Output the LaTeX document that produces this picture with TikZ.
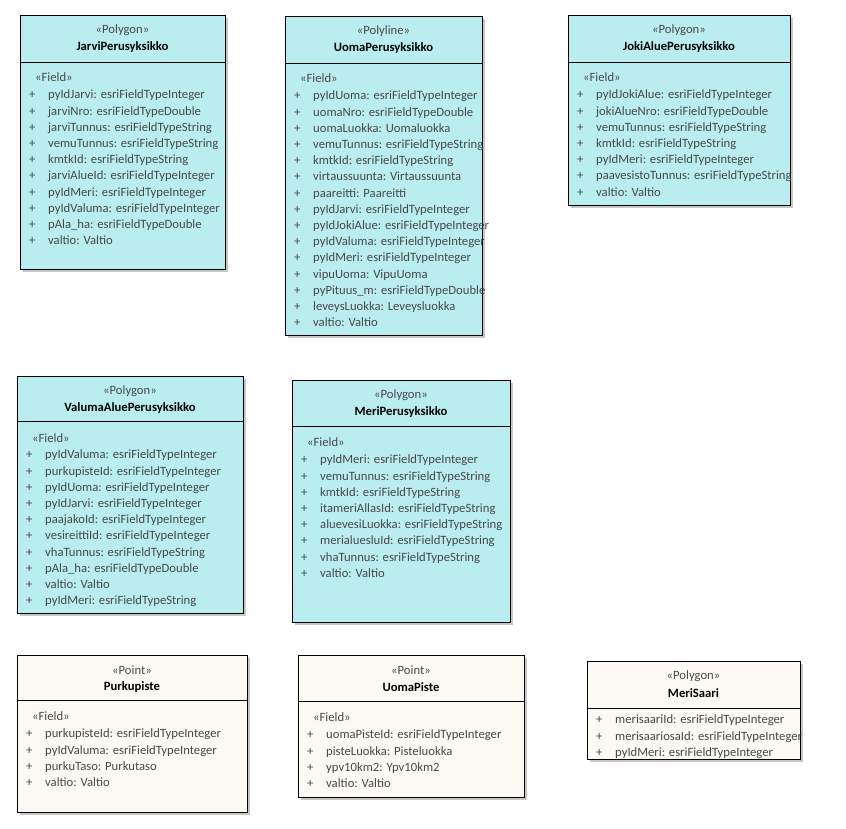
\documentclass[tikz,border=0pt]{standalone}
\usepackage{fontspec}
\setmainfont{Carlito}
\definecolor{cyanfill}{RGB}{186,237,240}
\definecolor{pointfill}{RGB}{253,250,246}
\definecolor{txt}{RGB}{72,72,72}
\tikzset{
  clsbox/.style={draw=black, line width=0.9bp, fill=#1},
  shade/.style={fill=black!22},
  stereotxt/.style={font=\fontsize{12.7}{14}\selectfont, text=txt, inner sep=0},
  titletxt/.style={font=\fontsize{12.7}{14}\selectfont\bfseries, text=black, inner sep=0},
  fldtxt/.style={font=\fontsize{12.7}{14}\selectfont, text=txt, inner sep=0, anchor=west, text height=8.6bp, text depth=2.8bp},
}
% #1 name  #2 x1  #3 y1  #4 x2  #5 y2  #6 ydivider  #7 fill  #8 stereotype  #9 title
\newcommand\umlcls[9]{%
  \fill[shade] ({#2+3},{#3+3}) rectangle ({#4+3},{#5+3});
  \draw[clsbox=#7] (#2,#3) rectangle (#4,#5);
  \coordinate (#1-nw) at (#2,#3);
  \coordinate (#1-se) at (#4,#5);
  \draw[line width=0.8bp] (#2,#6) -- (#4,#6);
  \node[stereotxt] (#1-st) at ({(#2+#4)/2},{#3+15.5}) {«#8»};
  \node[titletxt] (#1-ti) at ({(#2+#4)/2},{#3+32}) {#9};
}
% #1 name  #2 x1  #3 y of first field  #4 list
\newcommand\umlflds[4]{%
  \foreach \t [count=\i] in {#4} {
    \node[fldtxt] (#1-p\i) at ({#2+9},{#3+(\i-1)*16.2}) {+};
    \node[fldtxt] (#1-f\i) at ({#2+28},{#3+(\i-1)*16.2}) {\t};
  }
}
\newcommand\umlfieldhdr[3]{%
  \node[fldtxt] (#1-hdr) at ({#2+15},#3) {«Field»};
}
\begin{document}
\begin{tikzpicture}[x=1bp,y=-1bp]
\useasboundingbox (0,0) rectangle (846,829);

% JarviPerusyksikko
\umlcls{jarvi}{20}{15}{225}{269}{62}{cyanfill}{Polygon}{JarviPerusyksikko}
\umlfieldhdr{jarvi}{20}{79}
\umlflds{jarvi}{20}{96}{pyIdJarvi: esriFieldTypeInteger,jarviNro: esriFieldTypeDouble,jarviTunnus: esriFieldTypeString,vemuTunnus: esriFieldTypeString,kmtkId: esriFieldTypeString,jarviAlueId: esriFieldTypeInteger,pyIdMeri: esriFieldTypeInteger,pyIdValuma: esriFieldTypeInteger,pAla\_ha: esriFieldTypeDouble,valtio: Valtio}

% UomaPerusyksikko
\umlcls{uoma}{285}{16}{482}{335}{63}{cyanfill}{Polyline}{UomaPerusyksikko}
\umlfieldhdr{uoma}{285}{80}
\umlflds{uoma}{285}{97}{pyIdUoma: esriFieldTypeInteger,uomaNro: esriFieldTypeDouble,uomaLuokka: Uomaluokka,vemuTunnus: esriFieldTypeString,kmtkId: esriFieldTypeString,virtaussuunta: Virtaussuunta,paareitti: Paareitti,pyIdJarvi: esriFieldTypeInteger,pyIdJokiAlue: esriFieldTypeInteger,pyIdValuma: esriFieldTypeInteger,pyIdMeri: esriFieldTypeInteger,vipuUoma: VipuUoma,pyPituus\_m: esriFieldTypeDouble,leveysLuokka: Leveysluokka,valtio: Valtio}

% JokiAluePerusyksikko
\umlcls{joki}{568}{15}{790}{205}{62}{cyanfill}{Polygon}{JokiAluePerusyksikko}
\umlfieldhdr{joki}{568}{79}
\umlflds{joki}{568}{96}{pyIdJokiAlue: esriFieldTypeInteger,jokiAlueNro: esriFieldTypeDouble,vemuTunnus: esriFieldTypeString,kmtkId: esriFieldTypeString,pyIdMeri: esriFieldTypeInteger,paavesistoTunnus: esriFieldTypeString,valtio: Valtio}

% ValumaAluePerusyksikko
\umlcls{valuma}{17}{376}{243}{613}{421}{cyanfill}{Polygon}{ValumaAluePerusyksikko}
\umlfieldhdr{valuma}{17}{440}
\umlflds{valuma}{17}{456}{pyIdValuma: esriFieldTypeInteger,purkupisteId: esriFieldTypeInteger,pyIdUoma: esriFieldTypeInteger,pyIdJarvi: esriFieldTypeInteger,paajakoId: esriFieldTypeInteger,vesireittiId: esriFieldTypeInteger,vhaTunnus: esriFieldTypeString,pAla\_ha: esriFieldTypeDouble,valtio: Valtio,pyIdMeri: esriFieldTypeString}

% MeriPerusyksikko
\umlcls{meri}{292}{380}{510}{622}{426}{cyanfill}{Polygon}{MeriPerusyksikko}
\umlfieldhdr{meri}{292}{444}
\umlflds{meri}{292}{461}{pyIdMeri: esriFieldTypeInteger,vemuTunnus: esriFieldTypeString,kmtkId: esriFieldTypeString,itameriAllasId: esriFieldTypeString,aluevesiLuokka: esriFieldTypeString,merialuesluId: esriFieldTypeString,vhaTunnus: esriFieldTypeString,valtio: Valtio}

% Purkupiste
\umlcls{purku}{17}{655}{247}{812}{700}{pointfill}{Point}{Purkupiste}
\umlfieldhdr{purku}{17}{718}
\umlflds{purku}{17}{735}{purkupisteId: esriFieldTypeInteger,pyIdValuma: esriFieldTypeInteger,purkuTaso: Purkutaso,valtio: Valtio}

% UomaPiste
\umlcls{upiste}{298}{655}{524}{797}{701}{pointfill}{Point}{UomaPiste}
\umlfieldhdr{upiste}{298}{719}
\umlflds{upiste}{298}{736}{uomaPisteId: esriFieldTypeInteger,pisteLuokka: Pisteluokka,ypv10km2: Ypv10km2,valtio: Valtio}

% MeriSaari
\umlcls{saari}{587}{661}{800}{759}{708}{pointfill}{Polygon}{MeriSaari}
\umlflds{saari}{587}{721}{merisaariId: esriFieldTypeInteger,merisaariosaId: esriFieldTypeInteger,pyIdMeri: esriFieldTypeInteger}
\end{tikzpicture}
\end{document}
